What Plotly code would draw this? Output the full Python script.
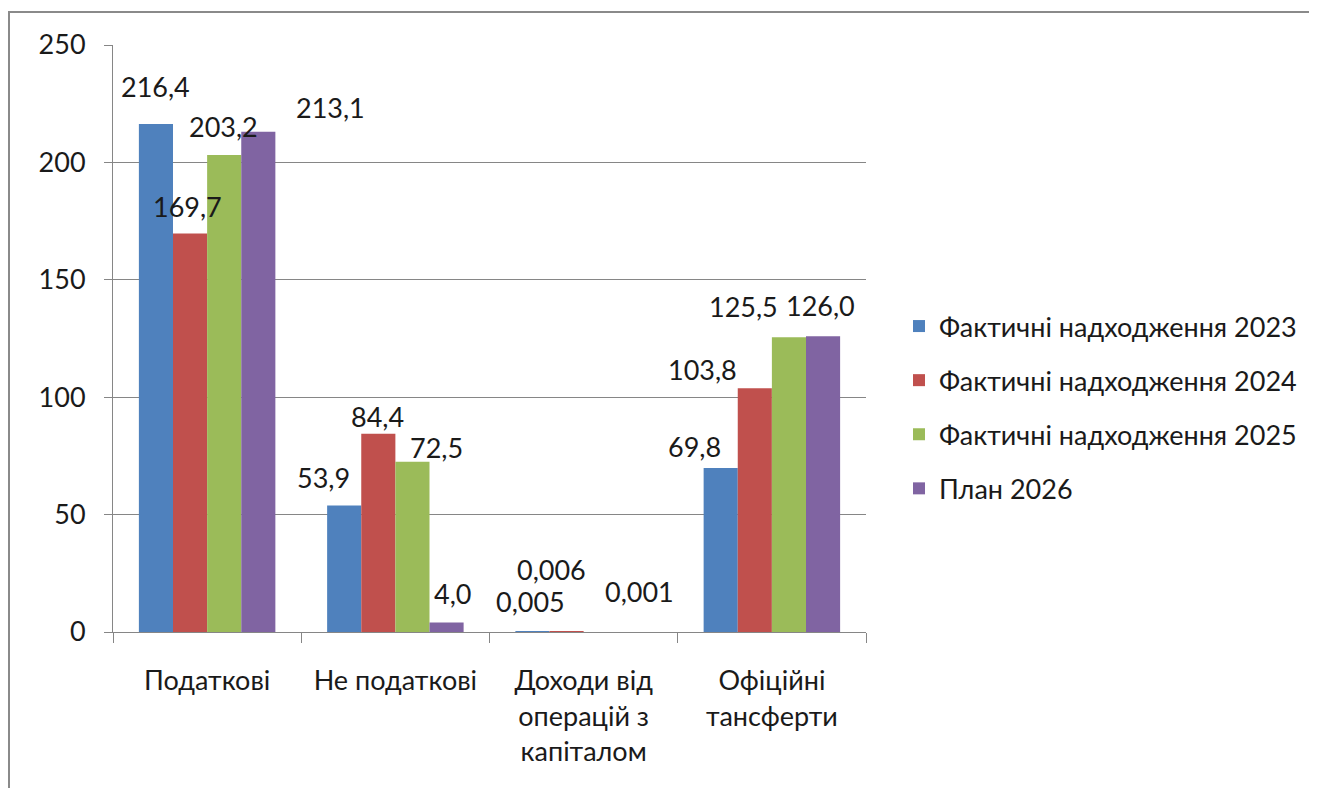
import plotly.graph_objects as go

categories = ["Податкові", "Не податкові", "Доходи від<br>операцій з<br>капіталом", "Офіційні<br>тансферти"]
series_names = ["Фактичні надходження 2023", "Фактичні надходження 2024",
                "Фактичні надходження 2025", "План 2026"]
values_2023 = [216.4, 53.9, 0.005, 69.8]
values_2024 = [169.7, 84.4, 0.006, 103.8]
values_2025 = [203.2, 72.5, None, 125.5]
values_2026 = [213.1, 4.0, 0.001, 126.0]
label_2023 = ["216,4", "53,9", "0,005", "69,8"]
label_2024 = ["169,7", "84,4", "0,006", "103,8"]
label_2025 = ["203,2", "72,5", None, "125,5"]
label_2026 = ["213,1", "4,0", "0,001", "126,0"]
y_ticks = [0, 50, 100, 150, 200, 250]

colors = ["#4F81BD", "#C0504D", "#9BBB59", "#8064A2"]
all_values = [values_2023, values_2024, values_2025, values_2026]
all_labels = [label_2023, label_2024, label_2025, label_2026]

# manual label offsets (pixels) as placed in the original chart: (dx, dy)
label_offsets = [
    [(0, 37), (-20, 28), (-2, 30), (-26, 22)],
    [(-2, 27), (-1, 17.5), (-15, 62), (-52, 19)],
    [(-1, 28.5), (24, 14), (0, 0), (-46, 31)],
    [(72, 24), (6, 29), (4, 41), (-3, 31)],
]

FONT = "Lato, 'Open Sans', sans-serif"
FS = 27
TXT = "#1a1a1a"

fig = go.Figure()
for i in range(4):
    fig.add_trace(go.Bar(
        x=categories, y=all_values[i], name=series_names[i],
        marker=dict(color=colors[i], line=dict(width=0)),
        legendgroup=str(i),
    ))

bar_w = 34.4
for i in range(4):
    for j, cat in enumerate(categories):
        if all_labels[i][j] is None:
            continue
        dx, dy = label_offsets[i][j]
        fig.add_annotation(
            x=cat, y=all_values[i][j], xref="x", yref="y",
            text=all_labels[i][j], showarrow=False,
            xshift=(i - 1.5) * bar_w + dx, yshift=dy,
            xanchor="center", yanchor="middle",
            font=dict(family=FONT, size=FS, color=TXT),
        )

# page has an 8px body margin; figure coords = page coords - 8
OFF = 8
L, R, T, B = 113 - OFF, 866 - OFF, 45 - OFF, 632 - OFF
W, H = 1301, 780
pw = R - L
ph = B - T

def px(xp):
    return (xp - OFF - L) / pw

def py(yp):
    return (B - (yp - OFF)) / ph

fig.add_shape(type="rect", xref="paper", yref="paper",
              x0=px(9), x1=px(1340), y0=py(830), y1=py(12),
              line=dict(color="#8a8a8a", width=2), fillcolor="rgba(0,0,0,0)", layer="below")

fig.update_layout(
    width=W, height=H,
    margin=dict(l=L, r=W - R, t=T, b=H - B, pad=0, autoexpand=False),
    paper_bgcolor="white", plot_bgcolor="white",
    barmode="group", bargap=0.275, bargroupgap=0,
    font=dict(family=FONT, size=FS, color=TXT),
    showlegend=True,
    legend=dict(
        x=px(899), y=py(302), xanchor="left", yanchor="top",
        font=dict(family=FONT, size=FS, color=TXT),
        tracegroupgap=16, itemwidth=30, bgcolor="rgba(0,0,0,0)",
    ),
    xaxis=dict(
        showline=True, linecolor="#868686", linewidth=1,
        ticks="outside", tickson="boundaries", ticklen=10, tickcolor="#868686",
        showgrid=False, zeroline=False, automargin=False,
        tickfont=dict(family=FONT, size=FS, color=TXT),
        ticklabelstandoff=25,
    ),
    yaxis=dict(
        range=[0, 250], tickvals=y_ticks, ticktext=[str(v) for v in y_ticks],
        showline=True, linecolor="#868686", linewidth=1,
        ticks="outside", ticklen=8, tickcolor="#868686",
        showgrid=True, gridcolor="#868686", gridwidth=1,
        zeroline=False, automargin=False,
        tickfont=dict(family=FONT, size=FS, color=TXT),
        ticklabelstandoff=13,
    ),
)

fig.write_html("out.html")
